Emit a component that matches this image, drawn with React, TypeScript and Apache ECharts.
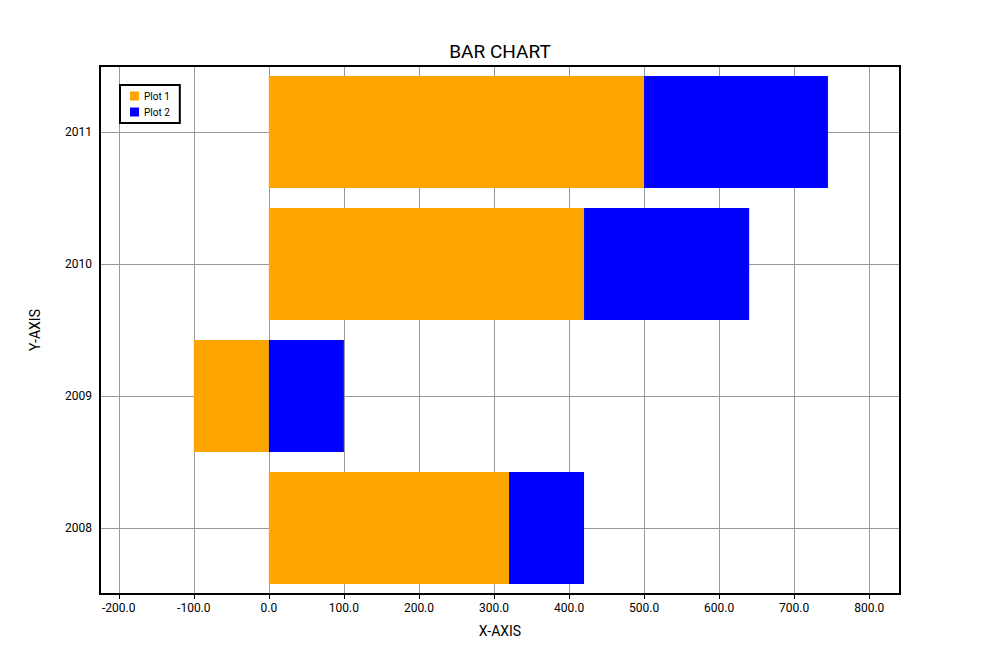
import { useEffect, useRef } from "react";
import * as echarts from "echarts";

const years = ["2008", "2009", "2010", "2011"];
const plot1 = [320, -100, 420, 500];
const plot2 = [100, 100, 220, 245];
const xTicks = [-200, -100, 0, 100, 200, 300, 400, 500, 600, 700, 800];

export default function App() {
  const ref = useRef<HTMLDivElement>(null);

  useEffect(() => {
    if (!ref.current) return;
    document.body.style.margin = "0";
    const chart = echarts.init(ref.current, null, { renderer: "svg" });
    const font = "Roboto";
    chart.setOption({
      animation: false,
      textStyle: { fontFamily: font },
      title: {
        text: "BAR CHART",
        left: "center",
        top: 37,
        textStyle: { fontFamily: font, fontSize: 19, fontWeight: "normal", color: "#000" },
      },
      legend: {
        left: 120,
        top: 85,
        orient: "vertical",
        padding: [6, 10, 6, 10],
        itemGap: 6,
        itemWidth: 9,
        itemHeight: 9,
        icon: "rect",
        borderColor: "#000",
        borderWidth: 2,
        borderRadius: 0,
        textStyle: { fontSize: 10, color: "#000" },
        data: ["Plot 1", "Plot 2"],
      },
      grid: {
        left: 100,
        right: 100,
        top: 66,
        bottom: 66,
        show: true,
        borderColor: "#000",
        borderWidth: 2,
        z: 10,
      },
      xAxis: {
        type: "value",
        min: -225,
        max: 841,
        name: "X-AXIS",
        nameLocation: "middle",
        nameGap: 30,
        nameTextStyle: { fontSize: 14, color: "#000" },
        axisLine: { show: false },
        axisTick: { show: true, length: 5, customValues: xTicks, lineStyle: { color: "#000" } },
        axisLabel: {
          customValues: xTicks,
          color: "#000",
          fontSize: 12,
          margin: 8,
          formatter: (v: number) => v.toFixed(1),
        },
        splitLine: { show: false },
      },
      yAxis: {
        type: "category",
        data: years,
        name: "Y-AXIS",
        nameLocation: "middle",
        nameGap: 58,
        nameTextStyle: { fontSize: 14, color: "#000" },
        axisLine: { show: false },
        axisTick: { show: true, alignWithLabel: true, length: 6, lineStyle: { color: "#000" } },
        axisLabel: { color: "#000", fontSize: 12, margin: 8 },
        splitLine: { show: false },
      },
      series: [
        {
          name: "Plot 1",
          type: "bar",
          stack: "s",
          data: plot1,
          barCategoryGap: "15%",
          itemStyle: { color: "#FFA500" },
          z: 3,
          markLine: {
            silent: true,
            symbol: "none",
            label: { show: false },
            lineStyle: { color: "#999", width: 1, type: "solid" },
            z: 1,
            data: [
              ...xTicks.map((v) => ({ xAxis: v })),
              ...years.map((y) => ({ yAxis: y })),
            ],
          },
        },
        {
          name: "Plot 2",
          type: "bar",
          stack: "s",
          data: plot2,
          barCategoryGap: "15%",
          itemStyle: { color: "#0000FF" },
          z: 3,
        },
      ],
    });
    return () => chart.dispose();
  }, []);

  return <div ref={ref} style={{ width: 1000, height: 660 }} />;
}
